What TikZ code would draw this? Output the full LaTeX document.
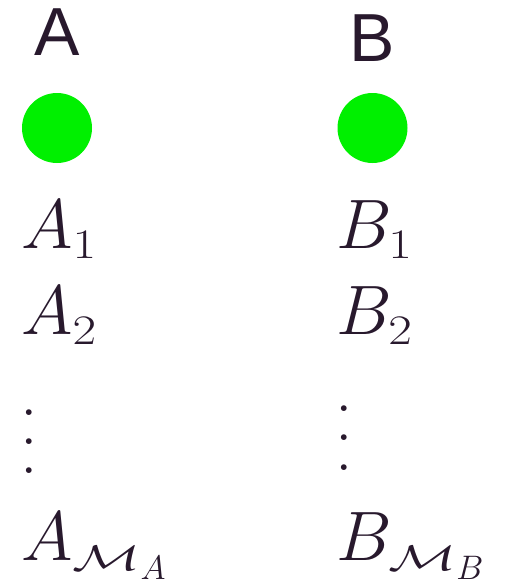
\RequirePackage{fix-cm}
\documentclass[tikz,border=0pt]{standalone}
\usepackage{graphicx}
\usepackage{fontspec}
\newfontfamily\hdrfont{Liberation Sans}
\DeclareMathSizes{70}{70}{42}{34}
\definecolor{ink}{RGB}{40,25,45}
\definecolor{dotgreen}{RGB}{0,240,0}
\newcommand{\wideM}{\scalebox{1.35}[0.85]{$\scriptstyle\mathcal{M}$}}
\newcommand{\widesub}[1]{\scalebox{1.22}[1]{$\scriptstyle #1$}}
\begin{document}
\begin{tikzpicture}[x=1pt,y=-1pt,
  hdr/.style={inner sep=0pt,anchor=base,text=ink,font=\hdrfont\fontsize{68}{80}\selectfont},
  ball/.style={circle,fill=dotgreen,draw=none,inner sep=0pt,minimum size=70pt},
  sym/.style={inner sep=0pt,anchor=base west,text=ink,font=\fontsize{70}{84}\selectfont},
  vdts/.style={inner sep=0pt,anchor=base west,text=ink,font=\fontsize{70}{84}\selectfont}
]
\useasboundingbox (0,0) rectangle (508,579);
\node[hdr] (hA) at (57.5,55) {A};
\node[hdr] (hB) at (372,61) {B};
\node[ball] (cA) at (57,128) {};
\node[ball] (cB) at (372.5,128) {};
\node[sym] (a1) at (21,248) {$A_{\widesub{1}}$};
\node[sym] (b1) at (336,248) {$B_{\widesub{1}}$};
\node[sym] (a2) at (21,334) {$A_{\widesub{2}}$};
\node[sym] (b2) at (336,334) {$B_{\widesub{2}}$};
\node[vdts] (ad) at (20.3,473.5) {\vbox{\baselineskip=28.8pt\hbox{.}\hbox{.}\hbox{.}}};
\node[vdts] (bd) at (335.3,470.5) {\vbox{\baselineskip=29.7pt\hbox{.}\hbox{.}\hbox{.}}};
\node[sym] (am) at (21,560) {$A_{\wideM_A}$};
\node[sym] (bm) at (336,560) {$B_{\wideM_B}$};
\end{tikzpicture}
\end{document}
